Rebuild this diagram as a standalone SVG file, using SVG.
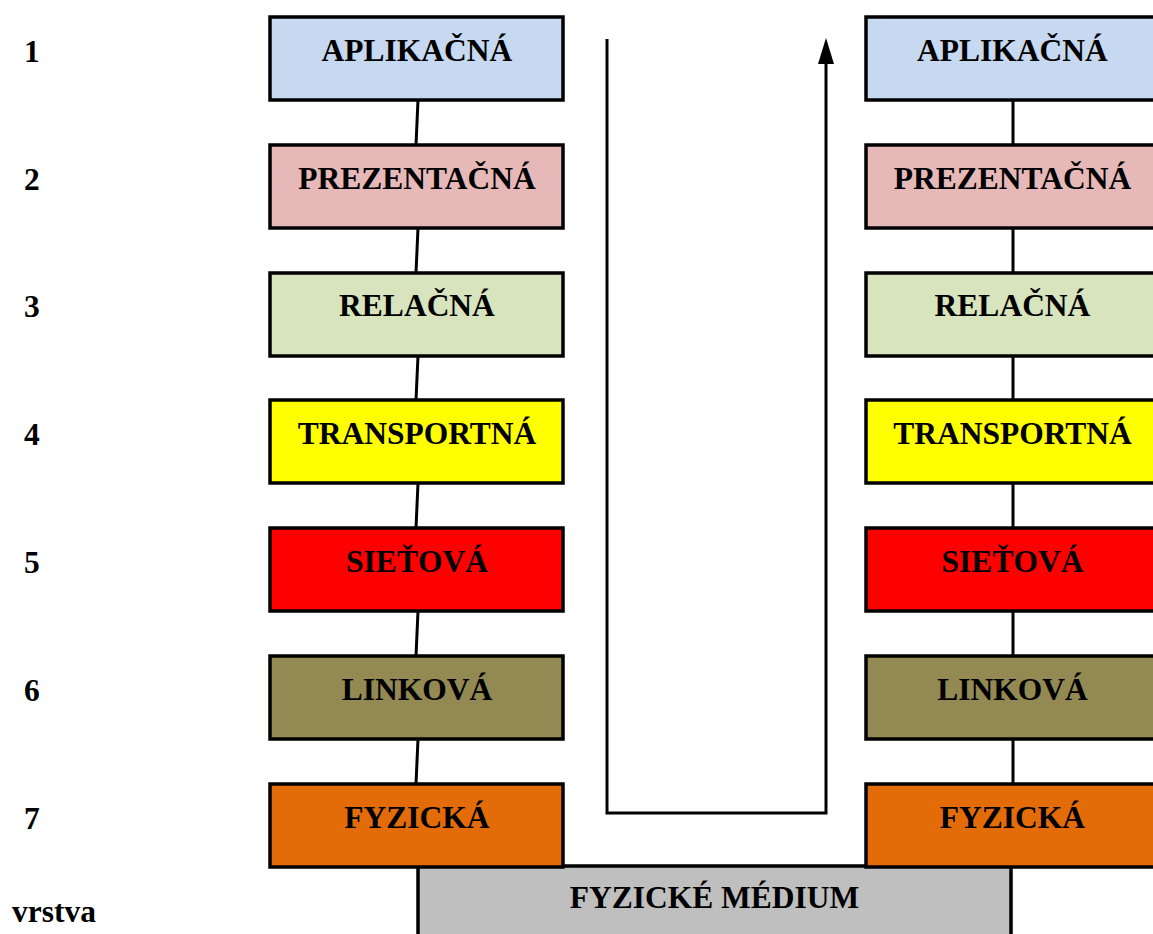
<svg xmlns="http://www.w3.org/2000/svg" width="1153" height="934" viewBox="0 0 1153 934">
<defs>
<style>
.box{stroke:#000;stroke-width:3.5}
.t{font-family:"Liberation Serif","Times New Roman",serif;font-weight:bold;font-size:31.5px;text-anchor:middle;fill:#000}
.n{font-family:"Liberation Serif","Times New Roman",serif;font-weight:bold;font-size:31.5px;fill:#000}
.c{stroke:#000;stroke-width:3;fill:none}
</style>
</defs>
<rect width="1153" height="934" fill="#fff"/>
<g id="connectors">
<path class="c" d="M418 100 L416 145 M418 228 L416 273 M418 356 L416 400 M418 483 L416 528 M418 611 L416 656 M418 739 L416 784"/>
<path class="c" d="M1013 100 V145 M1013 228 V273 M1013 356 V400 M1013 483 V528 M1013 611 V656 M1013 739 V784"/>
<path class="c" d="M607 39 V813 H826 V62"/>
<path d="M826 38 L834 64 L818 64 Z" fill="#000"/>
</g>
<g id="medium"><rect class="box" x="418" y="866" width="593" height="80" fill="#bfbfbf"/><text class="t" x="714.5" y="908">FYZICKÉ MÉDIUM</text></g>
<g id="L1"><rect class="box" x="270" y="17" width="293" height="83" fill="#c6d9f1"/><text class="t" x="417" y="61">APLIKAČNÁ</text></g>
<g id="L2"><rect class="box" x="270" y="145" width="293" height="83" fill="#e6b9b8"/><text class="t" x="417" y="189">PREZENTAČNÁ</text></g>
<g id="L3"><rect class="box" x="270" y="273" width="293" height="83" fill="#d7e4bd"/><text class="t" x="417" y="316">RELAČNÁ</text></g>
<g id="L4"><rect class="box" x="270" y="400" width="293" height="83" fill="#ffff00"/><text class="t" x="417" y="444">TRANSPORTNÁ</text></g>
<g id="L5"><rect class="box" x="270" y="528" width="293" height="83" fill="#ff0000"/><text class="t" x="417" y="572">SIEŤOVÁ</text></g>
<g id="L6"><rect class="box" x="270" y="656" width="293" height="83" fill="#938953"/><text class="t" x="417" y="700">LINKOVÁ</text></g>
<g id="L7"><rect class="box" x="270" y="784" width="293" height="83" fill="#e36c09"/><text class="t" x="417" y="828">FYZICKÁ</text></g>
<g id="R1"><rect class="box" x="866" y="17" width="293" height="83" fill="#c6d9f1"/><text class="t" x="1012.5" y="61">APLIKAČNÁ</text></g>
<g id="R2"><rect class="box" x="866" y="145" width="293" height="83" fill="#e6b9b8"/><text class="t" x="1012.5" y="189">PREZENTAČNÁ</text></g>
<g id="R3"><rect class="box" x="866" y="273" width="293" height="83" fill="#d7e4bd"/><text class="t" x="1012.5" y="316">RELAČNÁ</text></g>
<g id="R4"><rect class="box" x="866" y="400" width="293" height="83" fill="#ffff00"/><text class="t" x="1012.5" y="444">TRANSPORTNÁ</text></g>
<g id="R5"><rect class="box" x="866" y="528" width="293" height="83" fill="#ff0000"/><text class="t" x="1012.5" y="572">SIEŤOVÁ</text></g>
<g id="R6"><rect class="box" x="866" y="656" width="293" height="83" fill="#938953"/><text class="t" x="1012.5" y="700">LINKOVÁ</text></g>
<g id="R7"><rect class="box" x="866" y="784" width="293" height="83" fill="#e36c09"/><text class="t" x="1012.5" y="828">FYZICKÁ</text></g>
<g id="labels">
<text class="n" x="24" y="62">1</text>
<text class="n" x="24" y="190">2</text>
<text class="n" x="24" y="317">3</text>
<text class="n" x="24" y="445">4</text>
<text class="n" x="24" y="573">5</text>
<text class="n" x="24" y="701">6</text>
<text class="n" x="24" y="829">7</text>
<text class="n" x="12" y="922">vrstva</text>
</g>
</svg>
